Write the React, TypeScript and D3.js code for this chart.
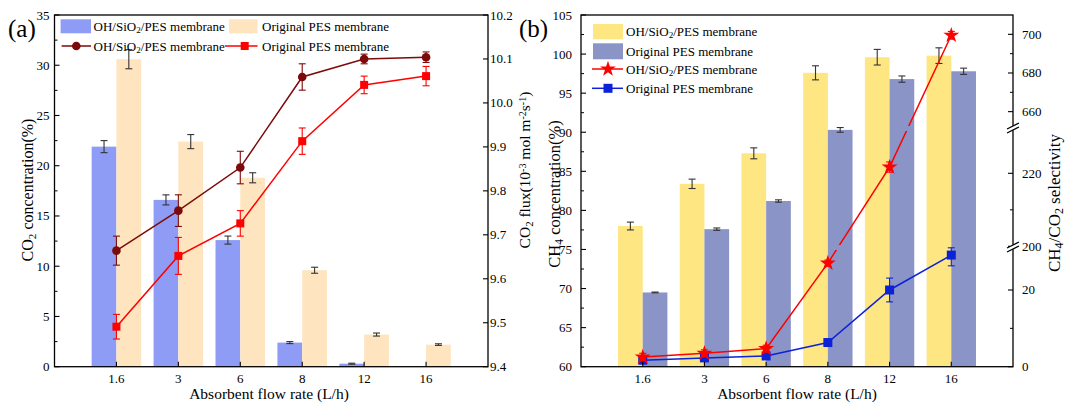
import React from 'react';
import * as d3 from 'd3';

// ---------- data ----------
const categories = ['1.6', '3', '6', '8', '12', '16'];

// panel (a): CO2 concentration bars (%)
const co2ConcOH = [21.9, 16.6, 12.6, 2.4, 0.3, 0];
const co2ConcOHErr = [0.6, 0.5, 0.4, 0.1, 0.05, 0];
const co2ConcPES = [30.6, 22.4, 18.8, 9.6, 3.2, 2.2];
const co2ConcPESErr = [0.95, 0.7, 0.5, 0.3, 0.15, 0.08];
// panel (a): CO2 flux lines (10^-3 mol m^-2 s^-1)
const co2FluxOH = [9.664, 9.755, 9.853, 10.059, 10.1, 10.104];
const co2FluxOHErr = [0.033, 0.036, 0.037, 0.03, 0.011, 0.012];
const co2FluxPES = [9.491, 9.652, 9.726, 9.913, 10.041, 10.061];
const co2FluxPESErr = [0.028, 0.042, 0.029, 0.03, 0.02, 0.022];

// panel (b): CH4 concentration bars (%)
const ch4OH = [78.0, 83.4, 87.3, 97.6, 99.6, 99.8];
const ch4OHErr = [0.5, 0.6, 0.7, 0.9, 1.0, 1.0];
const ch4PES = [69.5, 77.6, 81.2, 90.3, 96.8, 97.8];
const ch4PESErr = [0.05, 0.15, 0.15, 0.3, 0.4, 0.4];
// panel (b): CH4/CO2 selectivity lines
const selOH = [2.5, 3.5, 4.7, 27, 221.7, 699.5];
const selOHErr = [1, 0.9, 0.9, 0.8, 1.4, 2];
const selPES = [1.7, 2.3, 2.8, 6.3, 20, 29.1];
const selPESErr = [0.9, 0.8, 0.6, 0.4, 3.1, 2.8];

// ticks
const ticksA_left = [0, 5, 10, 15, 20, 25, 30, 35];
const ticksA_right = [9.4, 9.5, 9.6, 9.7, 9.8, 9.9, 10.0, 10.1, 10.2];
const ticksB_left = [60, 65, 70, 75, 80, 85, 90, 95, 100, 105];
const ticksB_right = [0, 20, 200, 220, 660, 680, 700];
const ticksB_rightMinor = [10, 210, 670, 690];

const FONT = "'Liberation Serif', 'DejaVu Serif', 'Times New Roman', serif";

const C = {
  blueBar: '#8e9cf6',
  orangeBar: '#fee5bf',
  yellowBar: '#fee682',
  purpleBar: '#8b94c6',
  darkRed: '#7d0a0a',
  red: '#ff0000',
  blue: '#0c22d8',
};

const TOP = 15;
const BOT = 366.7;

function ErrBar({ x, y1, y2, color, cap = 7, sw = 1.1 }: any) {
  return (
    <g stroke={color} strokeWidth={sw}>
      <line x1={x} x2={x} y1={y1} y2={y2} />
      <line x1={x - cap / 2} x2={x + cap / 2} y1={y1} y2={y1} />
      <line x1={x - cap / 2} x2={x + cap / 2} y1={y2} y2={y2} />
    </g>
  );
}

function Sub({ children }: any) {
  return <tspan fontSize="70%" baselineShift="-25%">{children}</tspan>;
}
function Sup({ children }: any) {
  return <tspan fontSize="65%" baselineShift="45%">{children}</tspan>;
}

function T(props: any) {
  return <text fontFamily={FONT} style={{ fontFamily: FONT }} {...props} />;
}

function Star({ x, y, r = 5.5, color }: any) {
  const p = d3.symbol().type(d3.symbolStar).size(r * r * 2.6)();
  return <path d={p as string} transform={`translate(${x},${y})`} fill={color} />;
}

function PanelA() {
  const x0 = 54.5, x1 = 488;
  const x = d3.scalePoint<string>().domain(categories).range([x0, x1]).padding(1);
  const bw = x.step() * 0.4;
  const yL = d3.scaleLinear().domain([0, 35]).range([BOT, TOP]);
  const yR = d3.scaleLinear().domain([9.4, 10.2]).range([BOT, TOP]);
  const line = d3.line<number>().x((_, i) => x(categories[i])!).y((d) => yR(d));
  const minorL = d3.range(2.5, 35, 5);
  return (
    <g>
      {categories.map((c, i) => {
        const cx = x(c)!;
        return (
          <g key={c}>
            {co2ConcOH[i] > 0 && (
              <rect x={cx - bw} y={yL(co2ConcOH[i])} width={bw} height={BOT - yL(co2ConcOH[i])} fill={C.blueBar} />
            )}
            <rect x={cx} y={yL(co2ConcPES[i])} width={bw} height={BOT - yL(co2ConcPES[i])} fill={C.orangeBar} />
          </g>
        );
      })}
      {categories.map((c, i) => {
        const cx = x(c)!;
        return (
          <g key={'e' + c}>
            {co2ConcOH[i] > 0 && (
              <ErrBar x={cx - bw / 2} y1={yL(co2ConcOH[i] - co2ConcOHErr[i])} y2={yL(co2ConcOH[i] + co2ConcOHErr[i])} color="#333" />
            )}
            <ErrBar x={cx + bw / 2} y1={yL(co2ConcPES[i] - co2ConcPESErr[i])} y2={yL(co2ConcPES[i] + co2ConcPESErr[i])} color="#333" />
          </g>
        );
      })}
      <path d={line(co2FluxOH)!} fill="none" stroke={C.darkRed} strokeWidth={1.5} />
      <path d={line(co2FluxPES)!} fill="none" stroke={C.red} strokeWidth={1.5} />
      {categories.map((c, i) => {
        const cx = x(c)!;
        return (
          <g key={'l' + c}>
            <ErrBar x={cx} y1={yR(co2FluxOH[i] - co2FluxOHErr[i])} y2={yR(co2FluxOH[i] + co2FluxOHErr[i])} color={C.darkRed} />
            <ErrBar x={cx} y1={yR(co2FluxPES[i] - co2FluxPESErr[i])} y2={yR(co2FluxPES[i] + co2FluxPESErr[i])} color={C.red} />
            <circle cx={cx} cy={yR(co2FluxOH[i])} r={4.3} fill={C.darkRed} />
            <rect x={cx - 4} y={yR(co2FluxPES[i]) - 4} width={8} height={8} fill={C.red} />
          </g>
        );
      })}
      <rect x={x0} y={TOP} width={x1 - x0} height={BOT - TOP} fill="none" stroke="#000" strokeWidth={1.3} />
      {ticksA_left.map((t) => (
        <g key={'tl' + t}>
          <line x1={x0} x2={x0 + 5} y1={yL(t)} y2={yL(t)} stroke="#000" strokeWidth={1.1} />
          <T x={x0 - 5} y={yL(t) + 4.5} textAnchor="end" fontSize={13}>{t}</T>
        </g>
      ))}
      {minorL.map((t) => (
        <line key={'ml' + t} x1={x0} x2={x0 + 3} y1={yL(t)} y2={yL(t)} stroke="#000" strokeWidth={1} />
      ))}
      {ticksA_right.map((t) => (
        <g key={'tr' + t}>
          <line x1={x1 - 5} x2={x1} y1={yR(t)} y2={yR(t)} stroke="#000" strokeWidth={1.1} />
          <T x={x1 + 2} y={yR(t) + 4.5} textAnchor="start" fontSize={13}>{t.toFixed(1)}</T>
        </g>
      ))}
      {categories.map((c) => (
        <g key={'tx' + c}>
          <line x1={x(c)!} x2={x(c)!} y1={BOT} y2={BOT - 5} stroke="#000" strokeWidth={1.1} />
          <T x={x(c)!} y={383} textAnchor="middle" fontSize={13}>{c}</T>
        </g>
      ))}
      <T x={269} y={399} textAnchor="middle" fontSize={15.5}>Absorbent flow rate (L/h)</T>
      <T transform="translate(33,190) rotate(-90)" textAnchor="middle" fontSize={16}>
        CO<Sub>2</Sub> concentration(%)
      </T>
      <T transform="translate(530,170) rotate(-90)" textAnchor="middle" fontSize={15.5}>
        CO<Sub>2</Sub> flux(10<Sup>-3</Sup> mol m<Sup>-2</Sup>s<Sup>-1</Sup>)
      </T>
      <rect x={60.6} y={19.3} width={30.4} height={14} fill={C.blueBar} />
      <T x={93.6} y={31} fontSize={13}>OH/SiO<Sub>2</Sub>/PES membrane</T>
      <rect x={229} y={19.3} width={28.5} height={14} fill={C.orangeBar} />
      <T x={262} y={31} fontSize={13}>Original PES membrane</T>
      <line x1={61.6} x2={91} y1={46} y2={46} stroke={C.darkRed} strokeWidth={1.5} />
      <circle cx={76.3} cy={46} r={4.3} fill={C.darkRed} />
      <T x={93.6} y={50.5} fontSize={13}>OH/SiO<Sub>2</Sub>/PES membrane</T>
      <line x1={225} x2={257.5} y1={46} y2={46} stroke={C.red} strokeWidth={1.5} />
      <rect x={240.7} y={42} width={8} height={8} fill={C.red} />
      <T x={262} y={50.5} fontSize={13}>Original PES membrane</T>
      <T x={8} y={37} fontSize={25}>(a)</T>
    </g>
  );
}

function PanelB() {
  const x0 = 581, x1 = 1013;
  const x = d3.scalePoint<string>().domain(categories).range([x0, x1]).padding(1);
  const bw = x.step() * 0.4;
  const yL = d3.scaleLinear().domain([60, 105]).range([BOT, TOP]);
  // broken right axis: three linear segments
  const yR = d3
    .scaleLinear()
    .domain([0, 31, 200, 232.3, 651.8, 710])
    .range([BOT, 247.8, 246.3, 128.4, 127.5, TOP]);
  const line = d3.line<number>().x((_, i) => x(categories[i])!).y((d) => yR(d));
  const minorL = d3.range(62.5, 105, 5);
  const breaks = [247, 128];
  return (
    <g>
      <defs>
        <clipPath id="brk">
          <rect x={x0} y={TOP - 10} width={x1 - x0 + 10} height={126 - TOP + 10} />
          <rect x={x0} y={131} width={x1 - x0 + 10} height={114} />
          <rect x={x0} y={250} width={x1 - x0 + 10} height={BOT - 250 + 10} />
        </clipPath>
      </defs>
      {categories.map((c, i) => {
        const cx = x(c)!;
        return (
          <g key={c}>
            <rect x={cx - bw} y={yL(ch4OH[i])} width={bw} height={BOT - yL(ch4OH[i])} fill={C.yellowBar} />
            <rect x={cx} y={yL(ch4PES[i])} width={bw} height={BOT - yL(ch4PES[i])} fill={C.purpleBar} />
          </g>
        );
      })}
      {categories.map((c, i) => {
        const cx = x(c)!;
        return (
          <g key={'e' + c}>
            <ErrBar x={cx - bw / 2} y1={yL(ch4OH[i] - ch4OHErr[i])} y2={yL(ch4OH[i] + ch4OHErr[i])} color="#333" />
            <ErrBar x={cx + bw / 2} y1={yL(ch4PES[i] - ch4PESErr[i])} y2={yL(ch4PES[i] + ch4PESErr[i])} color="#333" />
          </g>
        );
      })}
      <g clipPath="url(#brk)">
        <path d={line(selOH)!} fill="none" stroke={C.red} strokeWidth={1.5} />
      </g>
      <path d={line(selPES)!} fill="none" stroke={C.blue} strokeWidth={1.5} />
      {categories.map((c, i) => {
        const cx = x(c)!;
        return (
          <g key={'l' + c}>
            <ErrBar x={cx} y1={yR(selPES[i] - selPESErr[i])} y2={yR(selPES[i] + selPESErr[i])} color={C.blue} />
            <rect x={cx - 4.5} y={yR(selPES[i]) - 4.5} width={9} height={9} fill={C.blue} />
            <ErrBar x={cx} y1={yR(selOH[i] - selOHErr[i])} y2={yR(selOH[i] + selOHErr[i])} color={C.red} />
            <Star x={cx} y={yR(selOH[i])} color={C.red} />
          </g>
        );
      })}
      <rect x={x0} y={TOP} width={x1 - x0} height={BOT - TOP} fill="none" stroke="#000" strokeWidth={1.3} />
      {ticksB_left.map((t) => (
        <g key={'tl' + t}>
          <line x1={x0} x2={x0 + 5} y1={yL(t)} y2={yL(t)} stroke="#000" strokeWidth={1.1} />
          <T x={x0 - 9} y={yL(t) + 4.5} textAnchor="end" fontSize={13}>{t}</T>
        </g>
      ))}
      {minorL.map((t) => (
        <line key={'ml' + t} x1={x0} x2={x0 + 3} y1={yL(t)} y2={yL(t)} stroke="#000" strokeWidth={1} />
      ))}
      {ticksB_right.map((t) => (
        <g key={'tr' + t}>
          <line x1={x1 - 5} x2={x1} y1={yR(t)} y2={yR(t)} stroke="#000" strokeWidth={1.1} />
          <T x={x1 + 9} y={yR(t) + 4.5} textAnchor="start" fontSize={13}>{t}</T>
        </g>
      ))}
      {ticksB_rightMinor.map((t) => (
        <line key={'mr' + t} x1={x1 - 3} x2={x1} y1={yR(t)} y2={yR(t)} stroke="#000" strokeWidth={1} />
      ))}
      {breaks.map((b) => (
        <g key={'b' + b}>
          <rect x={x1 - 3} y={b - 2.2} width={6} height={4.4} fill="#fff" />
          <line x1={x1 - 6} x2={x1 + 6} y1={b - 2 + 3} y2={b - 2 - 3} stroke="#000" strokeWidth={1.2} />
          <line x1={x1 - 6} x2={x1 + 6} y1={b + 2 + 3} y2={b + 2 - 3} stroke="#000" strokeWidth={1.2} />
        </g>
      ))}
      {categories.map((c) => (
        <g key={'tx' + c}>
          <line x1={x(c)!} x2={x(c)!} y1={BOT} y2={BOT - 5} stroke="#000" strokeWidth={1.1} />
          <T x={x(c)!} y={383} textAnchor="middle" fontSize={13}>{c}</T>
        </g>
      ))}
      <T x={797} y={399} textAnchor="middle" fontSize={15.5}>Absorbent flow rate (L/h)</T>
      <T transform="translate(560,194) rotate(-90)" textAnchor="middle" fontSize={16.5}>
        CH<Sub>4</Sub> concentration(%)
      </T>
      <T transform="translate(1060,203) rotate(-90)" textAnchor="middle" fontSize={17}>
        CH<Sub>4</Sub>/CO<Sub>2</Sub> selectivity
      </T>
      <rect x={593} y={24} width={30} height={15.3} fill={C.yellowBar} />
      <T x={626} y={36} fontSize={13}>OH/SiO<Sub>2</Sub>/PES membrane</T>
      <rect x={593} y={43.3} width={30} height={16} fill={C.purpleBar} />
      <T x={626} y={55.5} fontSize={13}>Original PES membrane</T>
      <line x1={592} x2={623} y1={69} y2={69} stroke={C.red} strokeWidth={1.5} />
      <Star x={608} y={69} color={C.red} />
      <T x={626} y={73.5} fontSize={13}>OH/SiO<Sub>2</Sub>/PES membrane</T>
      <line x1={592} x2={623} y1={88.3} y2={88.3} stroke={C.blue} strokeWidth={1.5} />
      <rect x={603.5} y={83.8} width={9} height={9} fill={C.blue} />
      <T x={626} y={92.8} fontSize={13}>Original PES membrane</T>
      <T x={519} y={37} fontSize={25}>(b)</T>
    </g>
  );
}

export default function App() {
  return (
    <svg
      width={1065}
      height={409}
      viewBox="0 0 1065 409"
      fontFamily={FONT}
      style={{ position: 'absolute', left: 0, top: 0, background: '#fff', fontFamily: FONT }}
    >
      <rect width={1065} height={409} fill="#fff" />
      <PanelA />
      <PanelB />
    </svg>
  );
}
